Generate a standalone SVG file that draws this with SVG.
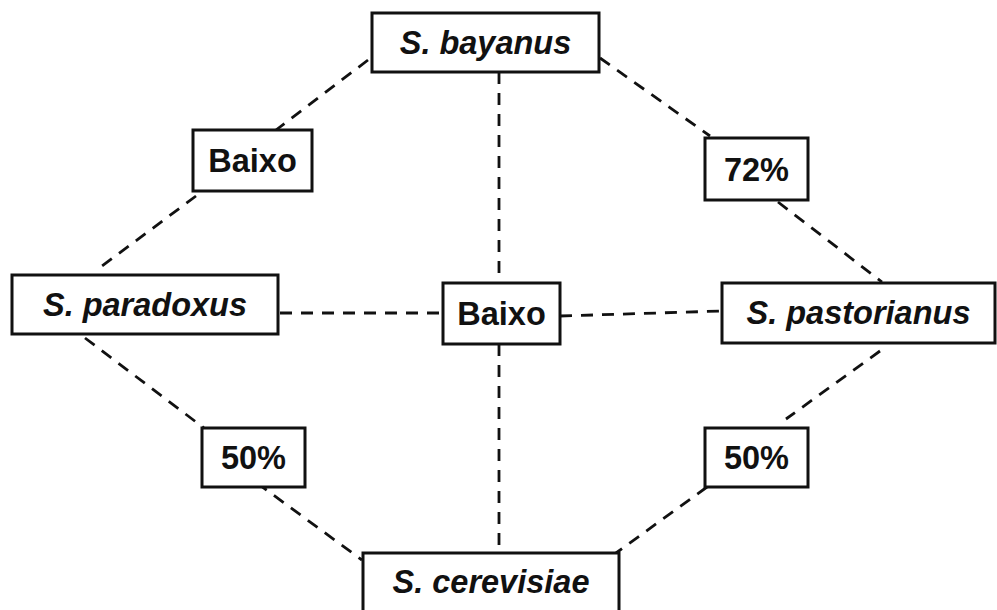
<svg xmlns="http://www.w3.org/2000/svg" width="997" height="610" viewBox="0 0 997 610">
  <style>
    .box { fill: #ffffff; stroke: #111111; stroke-width: 3; }
    .lbl { font-family: "Liberation Sans", Arial, sans-serif; font-size: 32.5px; font-weight: bold; fill: #111111; text-anchor: middle; }
    .sp { font-style: italic; }
    .dash { stroke: #111111; stroke-width: 2.8; stroke-dasharray: 12 9; fill: none; }
  </style>
  <rect width="997" height="610" fill="#ffffff"/>

  <g id="connectors">
    <!-- S. bayanus to S. paradoxus via Baixo -->
    <line class="dash" x1="368" y1="60" x2="276" y2="130"/>
    <line class="dash" x1="196" y1="196" x2="102" y2="266"/>
    <!-- S. bayanus to S. pastorianus via 72% -->
    <line class="dash" x1="600" y1="58" x2="710" y2="136"/>
    <line class="dash" x1="778" y1="202" x2="882" y2="282"/>
    <!-- S. paradoxus to S. cerevisiae via 50% -->
    <line class="dash" x1="85" y1="338" x2="204" y2="428"/>
    <line class="dash" x1="257" y1="483" x2="362" y2="560"/>
    <!-- S. pastorianus to S. cerevisiae via 50% -->
    <line class="dash" x1="880" y1="351" x2="786" y2="419"/>
    <line class="dash" x1="707" y1="487" x2="616" y2="553"/>
    <!-- S. bayanus to S. cerevisiae via central Baixo -->
    <line class="dash" x1="499" y1="72" x2="499" y2="283"/>
    <line class="dash" x1="499" y1="344" x2="499" y2="553"/>
    <!-- S. paradoxus to S. pastorianus via central Baixo -->
    <line class="dash" x1="280" y1="313" x2="443" y2="313"/>
    <line class="dash" x1="560" y1="316" x2="722" y2="311"/>
  </g>

  <g id="n-bayanus">
    <rect class="box" x="372" y="13" width="227" height="59"/>
    <text class="lbl sp" x="485.5" y="54">S. bayanus</text>
  </g>
  <g id="n-paradoxus">
    <rect class="box" x="12" y="275" width="266" height="59"/>
    <text class="lbl sp" x="145" y="316">S. paradoxus</text>
  </g>
  <g id="n-pastorianus">
    <rect class="box" x="722" y="283" width="273" height="60"/>
    <text class="lbl sp" x="858.5" y="324">S. pastorianus</text>
  </g>
  <g id="n-cerevisiae">
    <rect class="box" x="363" y="553" width="256" height="70"/>
    <text class="lbl sp" x="491" y="593">S. cerevisiae</text>
  </g>
  <g id="n-baixo-left">
    <rect class="box" x="193" y="130" width="119" height="61"/>
    <text class="lbl" x="252.5" y="172">Baixo</text>
  </g>
  <g id="n-baixo-center">
    <rect class="box" x="443" y="283" width="117" height="61"/>
    <text class="lbl" x="501.5" y="325">Baixo</text>
  </g>
  <g id="n-72">
    <rect class="box" x="705" y="138" width="103" height="62"/>
    <text class="lbl" x="756.5" y="181">72%</text>
  </g>
  <g id="n-50-left">
    <rect class="box" x="202" y="428" width="103" height="59"/>
    <text class="lbl" x="253.5" y="469">50%</text>
  </g>
  <g id="n-50-right">
    <rect class="box" x="705" y="428" width="103" height="59"/>
    <text class="lbl" x="756.5" y="469">50%</text>
  </g>
</svg>
